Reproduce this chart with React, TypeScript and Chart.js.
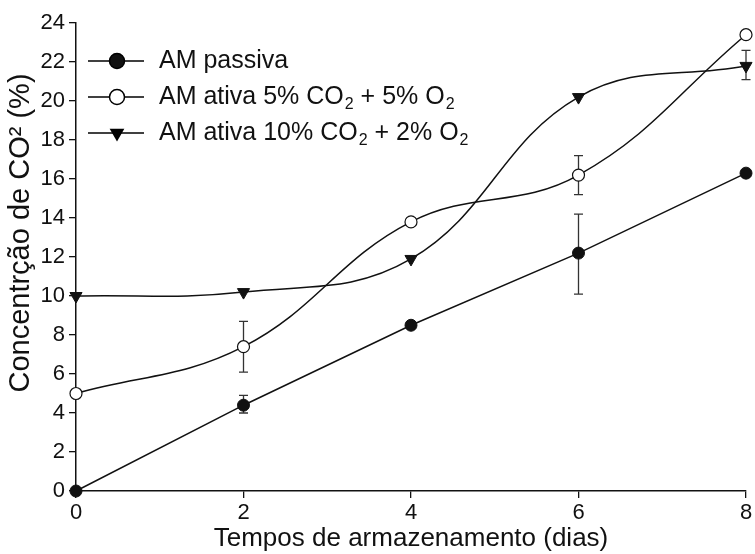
import { useEffect, useRef } from 'react';
import { Chart, registerables } from 'chart.js';

Chart.register(...registerables);

// ---- data ----
const days = [0, 2, 4, 6, 8];
const passiva = [0, 4.4, 8.5, 12.2, 16.3];
const ativa5 = [5, 7.4, 13.8, 16.2, 23.4];
const ativa10 = [10, 10.2, 11.9, 20.2, 21.8];

const passivaErrLow = [null, 4.0, null, 10.1, null];
const passivaErrHigh = [null, 4.9, null, 14.2, null];
const ativa5ErrLow = [null, 6.1, null, 15.2, null];
const ativa5ErrHigh = [null, 8.7, null, 17.2, null];
const ativa10ErrLow = [null, null, null, null, 21.1];
const ativa10ErrHigh = [null, null, null, null, 22.6];

const xTitle = 'Tempos de armazenamento (dias)';
const yTitle = 'Concentrção de CO² (%)';

const legendPassiva = [{ t: 'AM passiva' }];
const legendAtiva5 = [{ t: 'AM ativa 5% CO' }, { t: '2', sub: true }, { t: ' + 5% O' }, { t: '2', sub: true }];
const legendAtiva10 = [{ t: 'AM ativa 10% CO' }, { t: '2', sub: true }, { t: ' + 2% O' }, { t: '2', sub: true }];

const FONT = "'Liberation Sans', Arial, sans-serif";
const TICK_FS = 22;
const LEG_FS = 25;

function toPoints(ys: number[]) {
  return days.map((x, i) => ({ x, y: ys[i] }));
}

const errorBarPlugin = {
  id: 'errorBars',
  beforeDatasetsDraw(chart: any, _args: any, opts: any) {
    const { ctx, scales } = chart;
    const xs = scales.x;
    const ys = scales.y;
    ctx.save();
    ctx.strokeStyle = '#333';
    ctx.lineWidth = 1.3;
    (opts.sets || []).forEach((s: any) => {
      days.forEach((d, i) => {
        const lo = s.low[i];
        const hi = s.high[i];
        if (lo == null || hi == null) return;
        const px = xs.getPixelForValue(d);
        const py1 = ys.getPixelForValue(lo);
        const py2 = ys.getPixelForValue(hi);
        ctx.beginPath();
        ctx.moveTo(px, py1);
        ctx.lineTo(px, py2);
        ctx.moveTo(px - 4.5, py1);
        ctx.lineTo(px + 4.5, py1);
        ctx.moveTo(px - 4.5, py2);
        ctx.lineTo(px + 4.5, py2);
        ctx.stroke();
      });
    });
    ctx.restore();
  },
};

const yTitlePlugin = {
  id: 'yTitle',
  afterDraw(chart: any, _args: any, opts: any) {
    const { ctx, chartArea } = chart;
    ctx.save();
    ctx.translate(21, chartArea.top + opts.centerOffset);
    ctx.rotate(-Math.PI / 2);
    ctx.font = `${opts.size}px ${FONT}`;
    ctx.fillStyle = '#111';
    ctx.textAlign = 'center';
    ctx.textBaseline = 'middle';
    ctx.fillText(opts.text, 0, 0);
    ctx.restore();
  },
};

const customLegendPlugin = {
  id: 'customLegend',
  afterDraw(chart: any, _args: any, opts: any) {
    const { ctx, chartArea } = chart;
    const x0 = chartArea.left + 12;
    const x1 = chartArea.left + 68;
    const xm = chartArea.left + 41;
    const xt = chartArea.left + 83;
    ctx.save();
    (opts.items || []).forEach((item: any, idx: number) => {
      const y = chartArea.top + 38 + idx * 36;
      ctx.strokeStyle = '#000';
      ctx.lineWidth = 1.5;
      ctx.beginPath();
      ctx.moveTo(x0, y);
      ctx.lineTo(x1, y);
      ctx.stroke();
      ctx.beginPath();
      if (item.marker === 'triangle') {
        const r = 8.5;
        ctx.moveTo(xm, y + r);
        ctx.lineTo(xm - r * 0.866, y - r * 0.5);
        ctx.lineTo(xm + r * 0.866, y - r * 0.5);
        ctx.closePath();
        ctx.fillStyle = '#000';
        ctx.fill();
      } else {
        ctx.arc(xm, y, 7.5, 0, Math.PI * 2);
        ctx.fillStyle = item.marker === 'open' ? '#fff' : '#111';
        ctx.fill();
        ctx.stroke();
      }
      let x = xt;
      ctx.fillStyle = '#111';
      ctx.textBaseline = 'middle';
      ctx.textAlign = 'left';
      item.parts.forEach((p: any) => {
        if (p.sub) {
          ctx.font = `16px ${FONT}`;
          ctx.fillText(p.t, x + 1, y + 8);
          x += ctx.measureText(p.t).width + 1;
        } else {
          ctx.font = `${LEG_FS}px ${FONT}`;
          ctx.fillText(p.t, x, y);
          x += ctx.measureText(p.t).width;
        }
      });
    });
    ctx.restore();
  },
};

export default function App() {
  const ref = useRef<HTMLCanvasElement | null>(null);
  useEffect(() => {
    document.body.style.margin = '0';
    const canvas = ref.current;
    if (!canvas) return;
    const chart = new Chart(canvas, {
      type: 'line',
      data: {
        datasets: [
          {
            label: 'AM passiva',
            data: toPoints(passiva),
            borderColor: '#111',
            borderWidth: 1.5,
            tension: 0,
            clip: false,
            pointStyle: 'circle',
            pointRadius: 6,
            pointBackgroundColor: '#111',
            pointBorderColor: '#111',
            pointBorderWidth: 1,
          },
          {
            label: 'AM ativa 5% CO2 + 5% O2',
            data: toPoints(ativa5),
            borderColor: '#111',
            borderWidth: 1.5,
            tension: 0.4,
            clip: false,
            pointStyle: 'circle',
            pointRadius: 6,
            pointBackgroundColor: '#fff',
            pointBorderColor: '#111',
            pointBorderWidth: 1.2,
          },
          {
            label: 'AM ativa 10% CO2 + 2% O2',
            data: toPoints(ativa10),
            borderColor: '#111',
            borderWidth: 1.5,
            tension: 0.4,
            clip: false,
            pointStyle: 'triangle',
            pointRotation: 180,
            pointRadius: 7,
            pointBackgroundColor: '#111',
            pointBorderColor: '#111',
            pointBorderWidth: 1,
          },
        ],
      } as any,
      options: {
        animation: false,
        responsive: false,
        layout: { padding: { left: 0, right: 9, top: 23, bottom: 0 } },
        plugins: {
          legend: { display: false },
          tooltip: { enabled: false },
          errorBars: {
            sets: [
              { low: passivaErrLow, high: passivaErrHigh },
              { low: ativa5ErrLow, high: ativa5ErrHigh },
              { low: ativa10ErrLow, high: ativa10ErrHigh },
            ],
          },
          yTitle: { text: yTitle, size: 29, centerOffset: 210 },
          customLegend: {
            items: [
              { marker: 'filled', parts: legendPassiva },
              { marker: 'open', parts: legendAtiva5 },
              { marker: 'triangle', parts: legendAtiva10 },
            ],
          },
        } as any,
        scales: {
          x: {
            type: 'linear',
            min: 0,
            max: 8,
            afterFit: (s: any) => { s.height = 63; },
            ticks: { stepSize: 2, color: '#111', font: { family: FONT, size: TICK_FS }, padding: 2 },
            grid: { display: true, drawOnChartArea: false, drawTicks: true, tickLength: 7, color: '#111', lineWidth: 1.3 },
            border: { display: true, color: '#111', width: 1.5 },
            title: { display: true, text: xTitle, color: '#111', font: { family: FONT, size: 26 }, padding: { top: 0, bottom: 0 } },
          },
          y: {
            min: 0,
            max: 24,
            afterFit: (s: any) => { s.width = 76; },
            ticks: { stepSize: 2, color: '#111', font: { family: FONT, size: TICK_FS }, padding: 4 },
            grid: { display: true, drawOnChartArea: false, drawTicks: true, tickLength: 7, color: '#111', lineWidth: 1.3 },
            border: { display: true, color: '#111', width: 1.5 },
            title: { display: false },
          },
        },
      },
      plugins: [errorBarPlugin, yTitlePlugin, customLegendPlugin],
    });
    return () => chart.destroy();
  }, []);
  return (
    <div style={{ width: 755, height: 554 }}>
      <canvas ref={ref} width={755} height={554} />
    </div>
  );
}
